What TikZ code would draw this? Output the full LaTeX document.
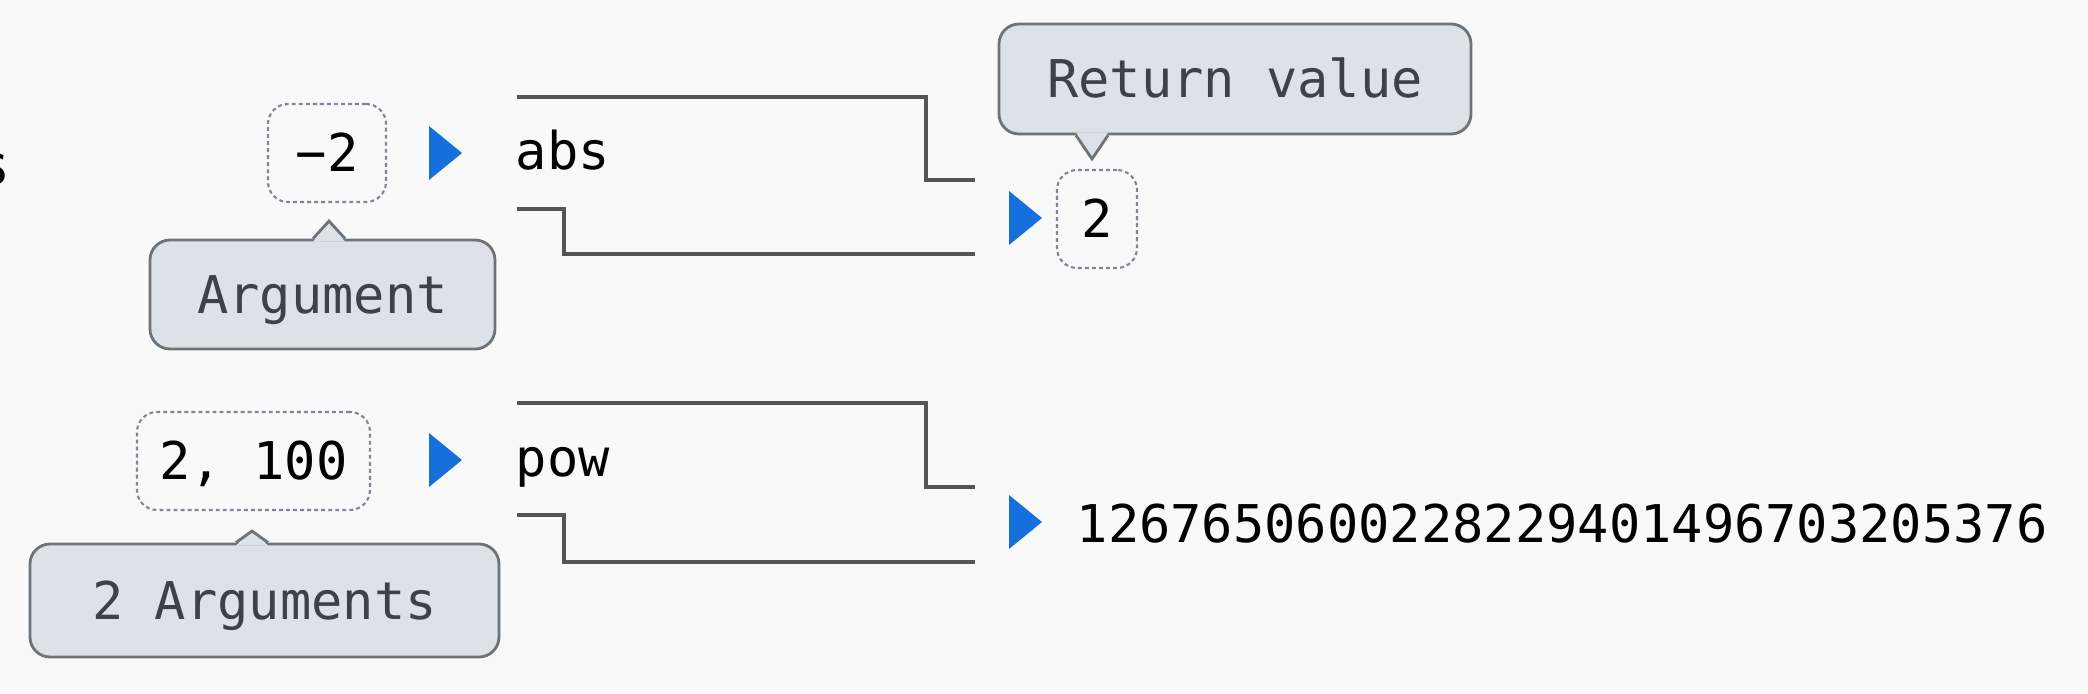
\documentclass[tikz,border=0pt]{standalone}
\usepackage{fontspec}
\setmonofont{DejaVu Sans Mono}
\usetikzlibrary{calc}
\definecolor{bg}{HTML}{F9F9F9}
\definecolor{tipfill}{HTML}{DDE2E8}
\definecolor{tipline}{HTML}{6E7378}
\definecolor{tiptext}{HTML}{3D4248}
\definecolor{playblue}{HTML}{1570DC}
\definecolor{wire}{HTML}{555555}
\definecolor{dots}{HTML}{7B8794}

\begin{document}
\begin{tikzpicture}[
  font=\fontsize{14.8}{18}\selectfont\ttfamily,
  val/.style={draw=dots, line width=0.6pt, dash pattern=on 1.1pt off 0.9pt, rounded corners=0.2cm,
    minimum height=0.98cm, text height=0.38cm, text depth=0cm, inner sep=0.1cm},
  tip/.style={draw=tipline, fill=tipfill, text=tiptext, line width=0.8pt, rounded corners=0.2cm,
    text height=0.38cm, text depth=0cm},
  play/.style={fill=playblue},
  machine/.style={draw=wire, line width=0.9pt}]
  \fill[bg] (0, 0) rectangle (20.88, 6.93);
  \useasboundingbox (0, 0) rectangle (20.88, 6.93);

  \node[font=\fontsize{20}{24}\selectfont\sffamily, anchor=base east, inner sep=0] (title) at (0.08, 5.08) {s};

  \node[val, minimum width=1.18cm] (neg) at (3.27, 5.40) {−2};
  \fill[play] (4.29, 5.67) -- (4.62, 5.40) -- (4.29, 5.13) -- cycle;
  \node[anchor=base west, inner sep=0] (abs) at (5.15, 5.23) {abs};
  \draw[machine] (5.17, 5.96) -- (9.26, 5.96) -- (9.26, 5.13) -- (9.75, 5.13);
  \draw[machine] (5.17, 4.84) -- (5.64, 4.84) -- (5.64, 4.39) -- (9.75, 4.39);
  \fill[play] (10.09, 5.02) -- (10.42, 4.75) -- (10.09, 4.48) -- cycle;
  \node[val, minimum width=0.80cm] (res) at (10.97, 4.74) {2};

  \node[val, minimum width=2.33cm] (pair) at (2.535, 2.32) {2, 100};
  \fill[play] (4.29, 2.60) -- (4.62, 2.33) -- (4.29, 2.06) -- cycle;
  \node[anchor=base west, inner sep=0] (pow) at (5.15, 2.16) {pow};
  \draw[machine] (5.17, 2.90) -- (9.26, 2.90) -- (9.26, 2.06) -- (9.75, 2.06);
  \draw[machine] (5.17, 1.78) -- (5.64, 1.78) -- (5.64, 1.31) -- (9.75, 1.31);
  \fill[play] (10.09, 1.98) -- (10.42, 1.71) -- (10.09, 1.44) -- cycle;
  \node[anchor=base west, inner sep=0] (big) at (10.76, 1.50) {1267650600228229401496703205376};

  \node[tip, minimum width=4.72cm, minimum height=1.10cm] (ret) at (12.35, 6.14) {Return value};
  \coordinate (rettip) at ($(res.north)+(-0.05, 0.10)$);
  \fill[tipfill] ($(rettip |- ret.south)+(-0.16, 0.03)$) -- (rettip) -- ($(rettip |- ret.south)+(0.16, 0.03)$) -- cycle;
  \draw[tipline, line width=0.8pt] ($(rettip |- ret.south)+(-0.16, 0)$) -- (rettip) -- ($(rettip |- ret.south)+(0.16, 0)$);

  \node[tip, minimum width=3.45cm, minimum height=1.09cm] (arg) at (3.225, 3.985) {Argument};
  \coordinate (argtip) at ($(neg.south)+(0.02, -0.18)$);
  \fill[tipfill] ($(argtip |- arg.north)+(-0.16, -0.03)$) -- (argtip) -- ($(argtip |- arg.north)+(0.16, -0.03)$) -- cycle;
  \draw[tipline, line width=0.8pt] ($(argtip |- arg.north)+(-0.16, 0)$) -- (argtip) -- ($(argtip |- arg.north)+(0.16, 0)$);

  \node[tip, minimum width=4.69cm, minimum height=1.13cm] (args) at (2.645, 0.925) {2 Arguments};
  \coordinate (argstip) at ($(pair.south)+(-0.015, -0.20)$);
  \fill[tipfill] ($(argstip |- args.north)+(-0.16, -0.03)$) -- (argstip) -- ($(argstip |- args.north)+(0.16, -0.03)$) -- cycle;
  \draw[tipline, line width=0.8pt] ($(argstip |- args.north)+(-0.16, 0)$) -- (argstip) -- ($(argstip |- args.north)+(0.16, 0)$);
\end{tikzpicture}
\end{document}
